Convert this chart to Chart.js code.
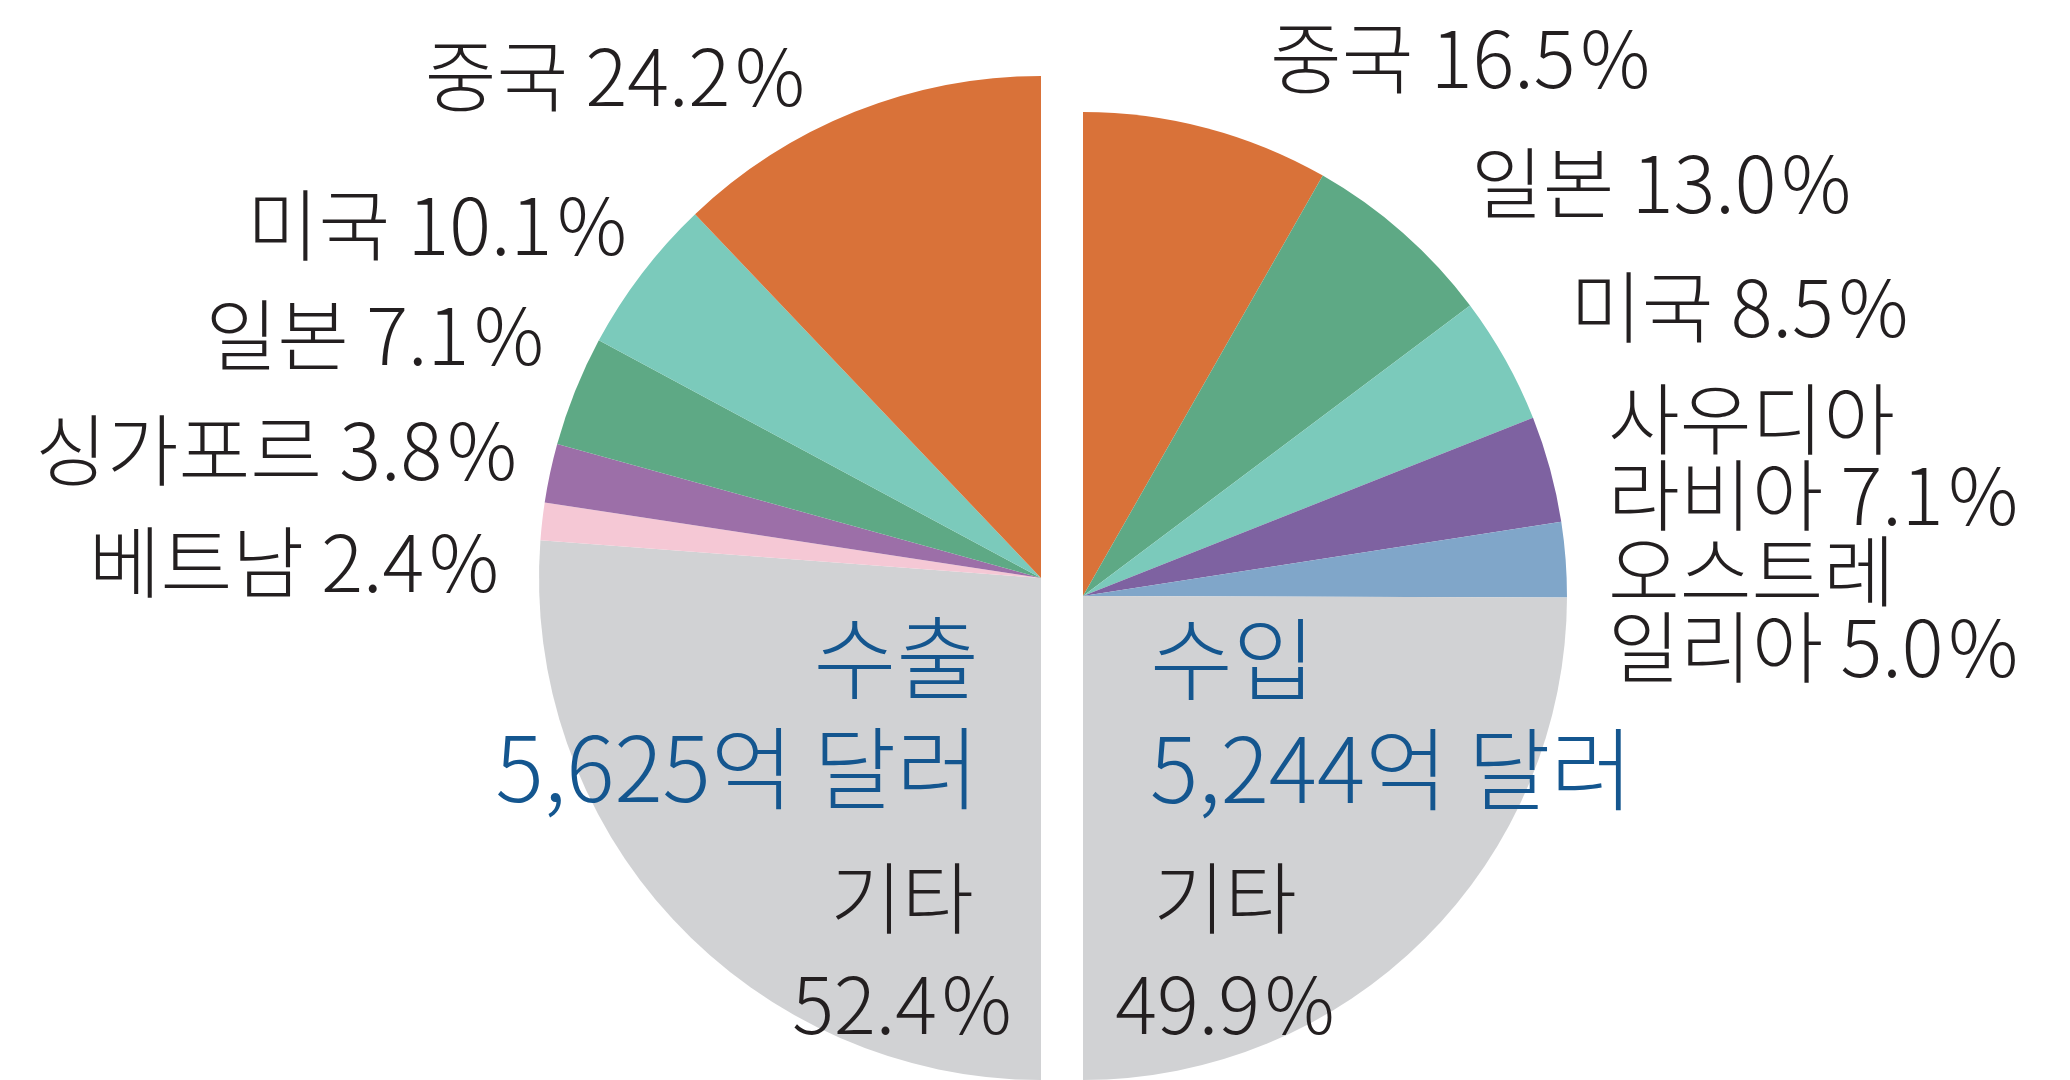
<!DOCTYPE html>
<html>
<head>
<meta charset="utf-8">
<script src="https://cdn.jsdelivr.net/npm/chart.js@4/dist/chart.umd.min.js"></script>
<style>
  html, body { margin: 0; padding: 0; background: #fff; }
  #wrap { position: relative; width: 2070px; height: 1080px; overflow: hidden; }
  canvas { position: absolute; left: 0; top: 0; }
</style>
</head>
<body>
<div id="wrap">
  <canvas id="exportChart" width="2070" height="1080"></canvas>
  <canvas id="importChart" width="2070" height="1080"></canvas>
</div>
<script>
// 수출 (export) shares, %
const exportNames = ['중국', '미국', '일본', '싱가포르', '베트남', '기타'];
const exportShares = [24.2, 10.1, 7.1, 3.8, 2.4, 52.4];
const exportColors = ['#d97239', '#7bcabb', '#5ea985', '#9c6fa8', '#f5c8d5', '#d1d2d4'];
const exportTitle = ['수출', '5,625억 달러'];

// 수입 (import) shares, %
const importNames = ['중국', '일본', '미국', '사우디아라비아', '오스트레일리아', '기타'];
const importShares = [16.5, 13.0, 8.5, 7.1, 5.0, 49.9];
const importColors = ['#d97239', '#5ea985', '#7bcabb', '#7e62a1', '#80a6c9', '#d1d2d4'];
const importTitle = ['수입', '5,244억 달러'];

const FONT = '"Noto Sans CJK KR", "Noto Sans", sans-serif';
const INK = '#231f20';
const BLUE = '#14568f';

function pct(v) { return v.toFixed(1) + '\u200a%'; }

// label placement, offsets from the pie centre (px)
const exportLayout = [
  { align: 'right', dx: -236, dy: -502 },
  { align: 'right', dx: -414, dy: -353 },
  { align: 'right', dx: -497, dy: -243 },
  { align: 'right', dx: -524, dy: -128 },
  { align: 'right', dx: -542, dy: -16 },
  { align: 'center', dx: -139, dy: 320, stack: true }
];
const importLayout = [
  { align: 'left', dx: 187, dy: -538 },
  { align: 'left', dx: 388, dy: -413 },
  { align: 'left', dx: 487, dy: -289 },
  { align: 'left', dx: 525, dy: -177, breakAt: 4 },
  { align: 'left', dx: 525, dy: -25, breakAt: 4 },
  { align: 'center', dx: 142, dy: 302, stack: true }
];

const pieLabels = {
  id: 'pieLabels',
  afterDatasetsDraw(chart, args, opts) {
    const ctx = chart.ctx;
    const arc = chart.getDatasetMeta(0).data[0];
    const cx = arc.x, cy = arc.y;
    ctx.save();
    ctx.textBaseline = 'middle';
    ctx.fillStyle = INK;
    ctx.font = '300 78px ' + FONT;
    opts.names.forEach((name, i) => {
      const l = opts.layout[i];
      const val = pct(opts.values[i]);
      let lines;
      if (l.stack) lines = [name, val];
      else if (l.breakAt) lines = [name.slice(0, l.breakAt), name.slice(l.breakAt) + ' ' + val];
      else lines = [name + ' ' + val];
      ctx.textAlign = l.align;
      lines.forEach((t, k) => {
        ctx.fillText(t, cx + l.dx, cy + l.dy + k * (l.stack ? 106 : 76));
      });
    });
    // total value in blue
    ctx.fillStyle = BLUE;
    ctx.font = '300 90px ' + FONT;
    ctx.textAlign = opts.titleAlign;
    opts.title.forEach((t, k) => {
      ctx.fillText(t, cx + opts.titleDx, cy + opts.titleDy + k * 110);
    });
    ctx.restore();
  }
};

function halfPie(id, names, values, colors, rotation, padding, labelOpts) {
  // left half is drawn clockwise from the bottom, so its order is reversed
  const rev = rotation === 180;
  const order = rev ? names.map((_, i) => names.length - 1 - i) : names.map((_, i) => i);
  return new Chart(document.getElementById(id), {
    type: 'pie',
    data: {
      labels: order.map(i => names[i]),
      datasets: [{
        data: order.map(i => values[i]),
        backgroundColor: order.map(i => colors[i]),
        borderWidth: 0
      }]
    },
    options: {
      responsive: false,
      animation: false,
      events: [],
      rotation: rotation,
      circumference: 180,
      layout: { padding: padding },
      plugins: {
        legend: { display: false },
        tooltip: { enabled: false },
        pieLabels: labelOpts
      }
    },
    plugins: [pieLabels]
  });
}

halfPie('exportChart', exportNames, exportShares, exportColors, 180,
  { left: 539, right: 1029, top: 76, bottom: 0 },
  { names: exportNames, values: exportShares, layout: exportLayout,
    title: exportTitle, titleAlign: 'right', titleDx: -62, titleDy: 80 });

halfPie('importChart', importNames, importShares, importColors, 0,
  { left: 1083, right: 503, top: 112, bottom: 0 },
  { names: importNames, values: importShares, layout: importLayout,
    title: importTitle, titleAlign: 'left', titleDx: 67, titleDy: 63 });
</script>
</body>
</html>
